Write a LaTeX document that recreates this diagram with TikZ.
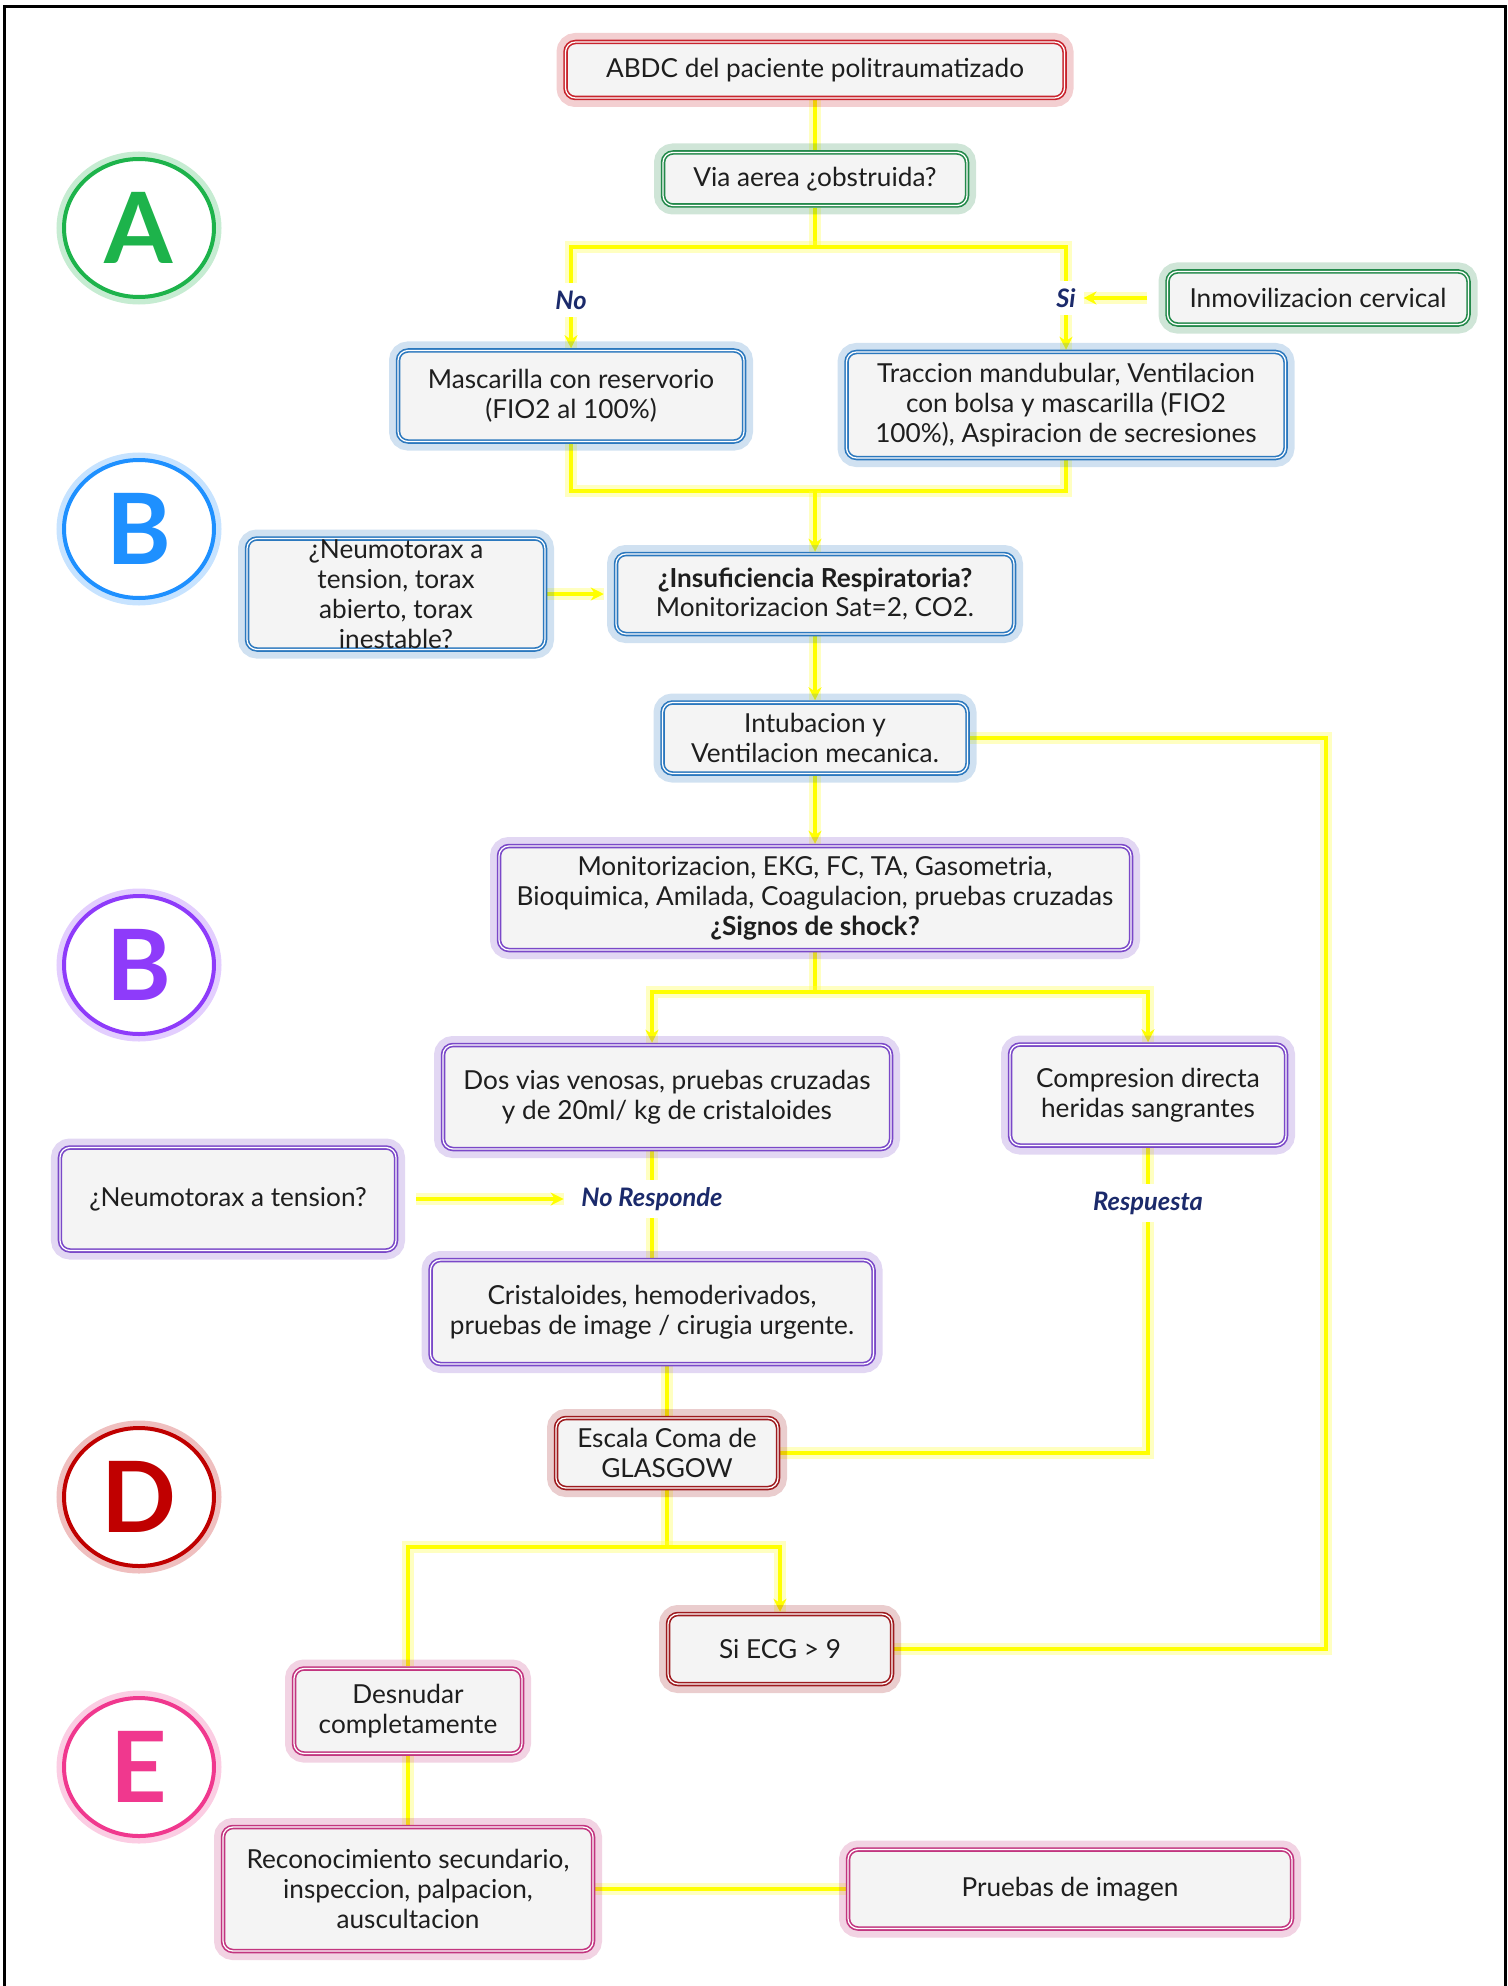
\documentclass[tikz,border=0pt]{standalone}
\usepackage{fontspec}
\setmainfont{Lato}
\usepackage{tikz}
\usetikzlibrary{arrows.meta,shapes,backgrounds,calc}

\definecolor{amarillo}{HTML}{FFFF00}
\definecolor{fondo}{HTML}{F4F4F4}
\definecolor{texto}{HTML}{1E1E1E}
\definecolor{azultexto}{HTML}{1B2A6B}
\definecolor{verde}{HTML}{23894A}
\definecolor{verdeA}{HTML}{1DB34B}
\definecolor{azul}{HTML}{2B78BE}
\definecolor{azulB}{HTML}{1E90FF}
\definecolor{morado}{HTML}{7A48C8}
\definecolor{moradoB}{HTML}{8E3BFA}
\definecolor{rojo}{HTML}{C8232C}
\definecolor{granate}{HTML}{9E1A1E}
\definecolor{rojoD}{HTML}{C00000}
\definecolor{rosa}{HTML}{C2357F}
\definecolor{rosaE}{HTML}{F0388E}

\newcommand{\fuentecaja}{\fontsize{14.9}{17}\selectfont}

\begin{document}
\begin{tikzpicture}[x=0.2mm,y=-0.2mm,>={Stealth[length=2.6mm,width=2.6mm]},
        caja/.style={rectangle,rounded corners=2mm,fill=fondo,draw=#1,line width=0.9mm,
          align=center,text=texto,font=\fuentecaja,inner sep=1mm,
          preaction={draw=#1,draw opacity=0.22,line width=3.6mm},
          postaction={draw=white,line width=0.25mm}},
        circulo/.style={ellipse,minimum width=30mm,minimum height=27.6mm,draw=#1,line width=0.8mm,
          fill=white,text=#1,font=\fontsize{56}{56}\selectfont\bfseries,
          preaction={draw=#1,draw opacity=0.25,line width=3mm}},
        etiqueta/.style={font=\fontsize{14.5}{16}\selectfont\bfseries\itshape,text=azultexto,inner sep=1.5mm},
        linea/.style={draw=amarillo,line width=0.9mm,
          preaction={draw=amarillo!70,draw opacity=0.35,line width=2.4mm,-}}]
  \useasboundingbox (0,0) rectangle (1507,1986);
  \draw[line width=0.6mm] (4,1986) -- (4,7) -- (1505,7) -- (1505,1986);

  % letras
  \node[circulo=verdeA]  (A)  at (139,228)  {A};
  \node[circulo=azulB]   (B1) at (139,529)  {B};
  \node[circulo=moradoB] (B2) at (139,965)  {B};
  \node[circulo=rojoD]   (D)  at (139,1497) {D};
  \node[circulo=rosaE]   (E)  at (139,1767) {E};

  % A
  \node[caja=rojo,minimum width=99.8mm,minimum height=11.2mm] (abdc) at (815,70) {ABDC del paciente politraumatizado};
  \node[caja=verde,minimum width=60.8mm,minimum height=10.6mm] (via) at (815,179) {Via aerea ¿obstruida?};
  \node[caja=verde,minimum width=60.2mm,minimum height=10.6mm] (inmo) at (1318,298) {Inmovilizacion cervical};
  \node[etiqueta] (no) at (571,300) {No};
  \node[etiqueta] (si) at (1066,298) {Si};
  \node[caja=azul,minimum width=69.2mm,minimum height=18.2mm] (masc) at (571,396) {Mascarilla con reservorio\\(FIO2 al 100\%)};
  \node[caja=azul,minimum width=87.8mm,minimum height=21.2mm] (trac) at (1066,405) {Traccion mandubular, Ventilacion\\con bolsa y mascarilla (FIO2\\100\%), Aspiracion de secresiones};

  % B
  \node[caja=azul,minimum width=79.6mm,minimum height=16mm] (insu) at (815,594) {\textbf{¿Insuficiencia Respiratoria?}\\Monitorizacion Sat=2, CO2.};
  \node[caja=azul,minimum width=59.6mm,minimum height=22.2mm,inner ysep=0pt] (neumo) at (396,594) {¿Neumotorax a\\tension, torax\\abierto, torax\\inestable?};
  \node[caja=azul,minimum width=61mm,minimum height=14.2mm,inner ysep=0pt] (intu) at (815,738) {Intubacion y\\Ventilacion mecanica.};

  % C
  \node[caja=morado,minimum width=126.4mm,minimum height=20.8mm] (moni) at (815,898) {Monitorizacion, EKG, FC, TA, Gasometria,\\Bioquimica, Amilada, Coagulacion, pruebas cruzadas\\\textbf{¿Signos de shock?}};
  \node[caja=morado,minimum width=89.6mm,minimum height=20.8mm] (dos) at (667,1097) {Dos vias venosas, pruebas cruzadas\\y de 20ml/ kg de cristaloides};
  \node[caja=morado,minimum width=55.2mm,minimum height=20.2mm] (comp) at (1148,1095) {Compresion directa\\heridas sangrantes};
  \node[caja=morado,minimum width=67.2mm,minimum height=20.6mm] (neut) at (228,1199) {¿Neumotorax a tension?};
  \node[etiqueta] (nores) at (652,1199) {No Responde};
  \node[etiqueta] (resp) at (1148,1203) {Respuesta};
  \node[caja=morado,minimum width=88.6mm,minimum height=20.8mm] (crist) at (652,1312) {Cristaloides, hemoderivados,\\pruebas de image / cirugia urgente.};

  % D
  \node[caja=granate,minimum width=44.4mm,minimum height=14mm,inner ysep=0pt] (esc) at (667,1453) {Escala Coma de\\GLASGOW};
  \node[caja=granate,minimum width=44.8mm,minimum height=14mm] (ecg) at (780,1649) {Si ECG > 9};

  % E
  \node[caja=rosa,minimum width=45.6mm,minimum height=17mm] (desn) at (408,1711) {Desnudar\\completamente};
  \node[caja=rosa,minimum width=74mm,minimum height=24.8mm] (reco) at (408,1889) {Reconocimiento secundario,\\inspeccion, palpacion,\\auscultacion};
  \node[caja=rosa,minimum width=88.8mm,minimum height=15.8mm] (prue) at (1070,1889) {Pruebas de imagen};

  \coordinate (j1) at (815,247);
  \coordinate (j2) at (815,491);
  \coordinate (j3) at (815,992);
  \coordinate (j4) at (667,1547);
  \coordinate (lazo) at (1326,1200);

  \begin{scope}[on background layer]
    \draw[linea] (abdc) -- (via);
    \draw[linea] (via) -- (j1);
    \draw[linea] (no) |- (j1);
    \draw[linea] (si) |- (j1);
    \draw[linea,->] (no) -- (masc);
    \draw[linea,->] (si) -- (trac);
    \draw[linea,->,shorten <=3.6mm] (inmo) -- (si);
    \draw[linea] (masc) |- (j2);
    \draw[linea] (trac) |- (j2);
    \draw[linea,->] (j2) -- (insu);
    \draw[linea,->,shorten >=2mm] (neumo) -- (insu);
    \draw[linea,->] (insu) -- (intu);
    \draw[linea] (intu) -| (lazo) |- (ecg);
    \draw[linea,->] (intu) -- (moni);
    \draw[linea] (moni) -- (j3);
    \draw[linea,->] (j3) -| (dos.north -| nores);
    \draw[linea,->] (j3) -| (comp);
    \draw[linea] (dos.south -| nores) -- (nores);
    \draw[linea] (nores) -- (crist);
    \draw[linea,->,shorten <=3.6mm,shorten >=2mm] (neut) -- (nores);
    \draw[linea] (comp) -- (resp);
    \draw[linea] (resp) |- (esc);
    \draw[linea] (crist.south -| esc) -- (esc);
    \draw[linea] (esc) -- (j4);
    \draw[linea] (desn) |- (j4);
    \draw[linea,->] (j4) -| (ecg);
    \draw[linea] (desn) -- (reco);
    \draw[linea] (reco) -- (prue);
  \end{scope}
\end{tikzpicture}
\end{document}
